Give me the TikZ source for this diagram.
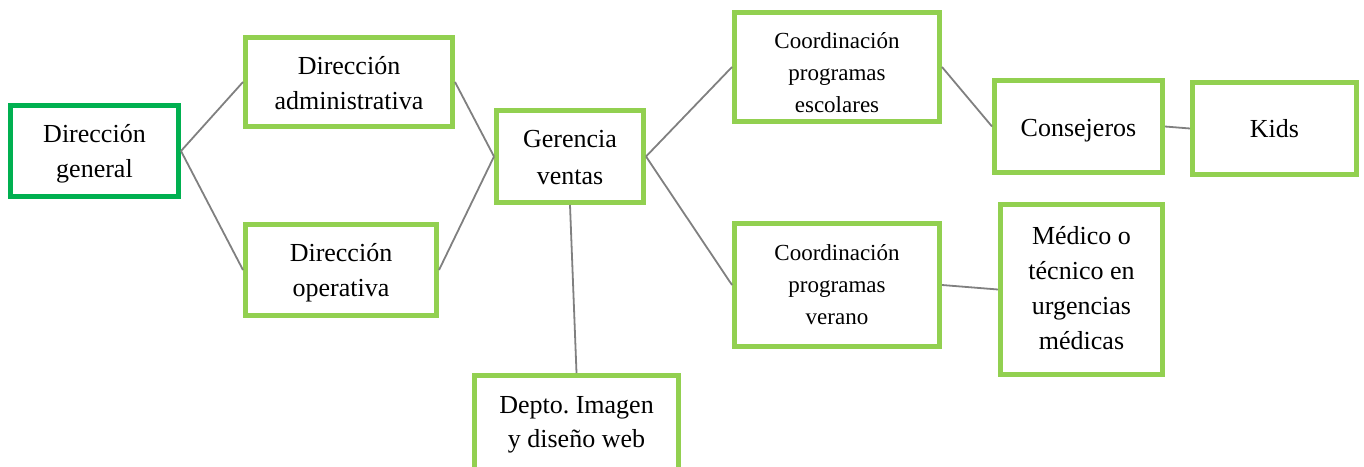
\documentclass[tikz,border=0pt]{standalone}
\usepackage{fontspec}
\setmainfont{Liberation Serif}
\definecolor{lgreen}{HTML}{92D050}
\definecolor{dgreen}{HTML}{00B050}
\definecolor{conn}{HTML}{808080}
\begin{document}
\begin{tikzpicture}[x=1pt,y=-1pt,
  box/.style={draw=lgreen, line width=5pt, fill=white, inner sep=0pt},
  ttxt/.style={align=center, inner sep=0pt, font={\fontsize{26}{35}\selectfont}},
  stxt/.style={align=center, inner sep=0pt, font={\fontsize{23}{32}\selectfont}},
  link/.style={draw=conn, line width=1.8pt}]
\useasboundingbox (0,0) rectangle (1364,466);
\node[box, draw=dgreen, minimum width=168pt, minimum height=91pt,
  label={[ttxt,yshift=-3pt]center:{Dirección\\general}}] (DG) at (94.5,151) {};
\node[box, minimum width=207pt, minimum height=89pt,
  label={[ttxt,yshift=-1pt]center:{Dirección\\administrativa}}] (DA) at (349,82) {};
\node[box, minimum width=191pt, minimum height=91pt,
  label={[ttxt,yshift=-2.5pt]center:{Dirección\\operativa}}] (DO) at (341,270) {};
\node[box, minimum width=147pt, minimum height=92pt,
  label={[ttxt,font={\fontsize{26}{37}\selectfont},yshift=-1pt]center:{Gerencia\\ventas}}] (GV) at (570,156.5) {};
\node[box, minimum width=205pt, minimum height=109pt,
  label={[stxt,yshift=-6pt]center:{Coordinación\\programas\\escolares}}] (CE) at (837,67) {};
\node[box, minimum width=205pt, minimum height=123pt,
  label={[stxt]center:{Coordinación\\programas\\verano}}] (CV) at (837,285) {};
\node[box, minimum width=168pt, minimum height=92pt,
  label={[ttxt,yshift=-4pt]center:{Consejeros}}] (CO) at (1078.5,126.5) {};
\node[box, minimum width=164pt, minimum height=92pt,
  label={[ttxt]center:{Kids}}] (KI) at (1274.5,128.5) {};
\node[box, minimum width=162pt, minimum height=170pt,
  label={[ttxt,yshift=1pt]center:{Médico o\\técnico en\\urgencias\\médicas}}] (ME) at (1081.5,289.5) {};
\node[box, minimum width=204pt, minimum height=97pt] (DW) at (576.5,424) {};
\node[ttxt, font={\fontsize{26}{34}\selectfont}] (DWt) at (576.5,425) {Depto.\ Imagen\\y diseño web};
\draw[link] (DG.east) -- (DA.west);
\draw[link] (DG.east) -- (DO.west);
\draw[link] (DA.east) -- (GV.west);
\draw[link] (DO.east) -- (GV.west);
\draw[link] (GV.east) -- (CE.west);
\draw[link] (GV.east) -- (CV.west);
\draw[link] (GV.south) -- (DW.north);
\draw[link] (CE.east) -- (CO.west);
\draw[link] (CO.east) -- (KI.west);
\draw[link] (CV.east) -- (ME.west);
\end{tikzpicture}
\end{document}
